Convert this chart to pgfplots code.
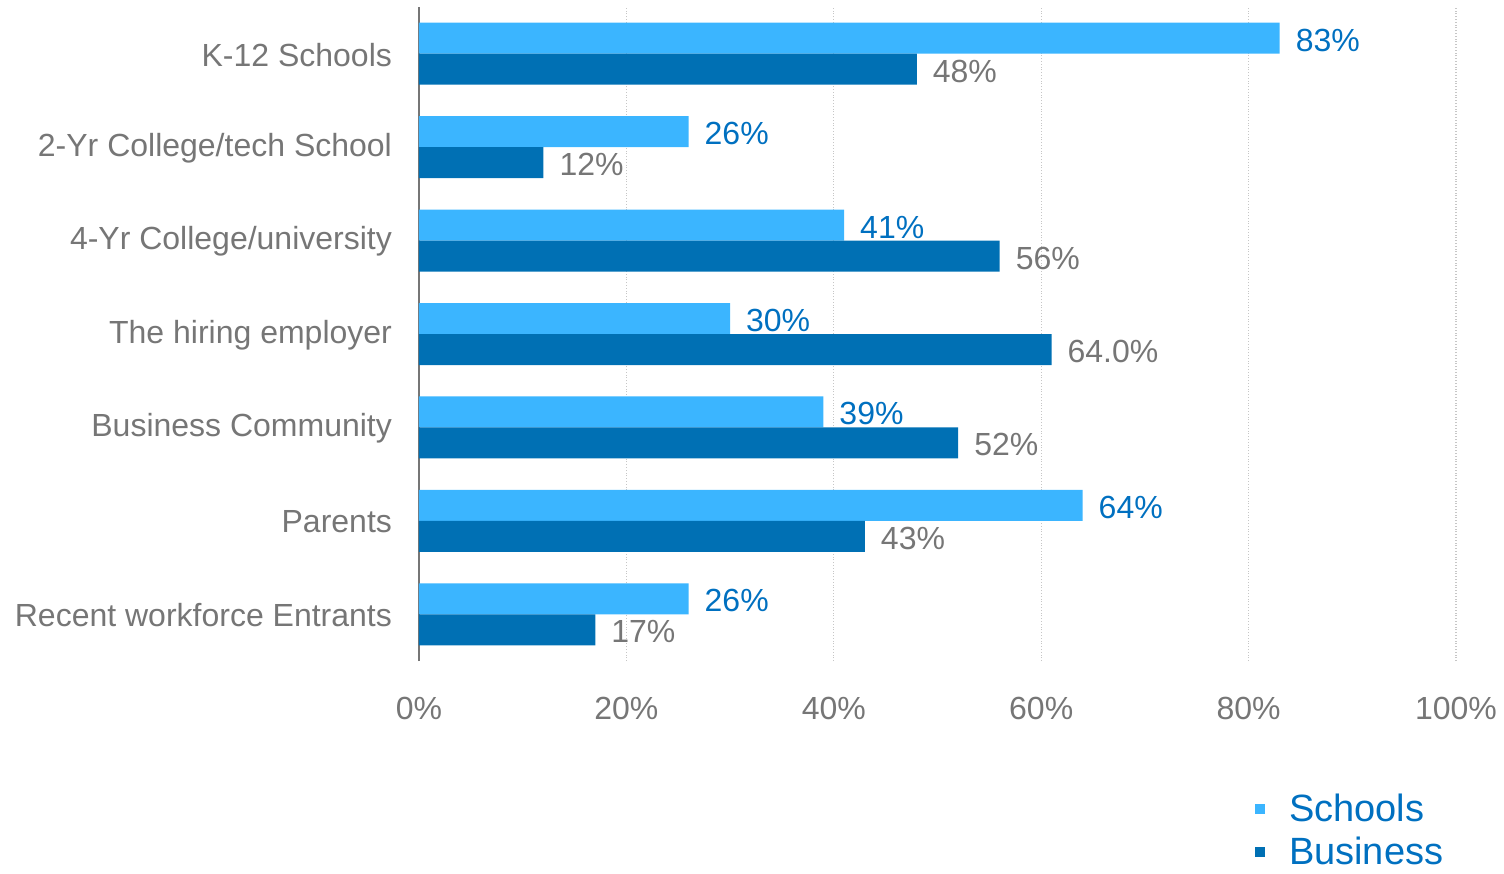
\documentclass[border=0pt]{standalone}
\usepackage{pgfplots}
\pgfplotsset{compat=1.18}
\usepackage{fontspec}
\setmainfont{Liberation Sans}
\definecolor{lightb}{HTML}{3BB5FF}
\definecolor{darkb}{HTML}{0070B4}
\definecolor{txtgray}{HTML}{767676}
\definecolor{lblblue}{HTML}{0070C0}
\begin{document}
\begin{tikzpicture}[x=1pt,y=1pt]
\useasboundingbox (-209.5,-106) rectangle (542.5,330.5);
\begin{axis}[
 scale only axis, width=518.5pt, height=327pt,
 at={(0,0)}, anchor=south west,
 xbar, bar width=15.5pt,
 xmin=0, xmax=100, ymin=-0.5, ymax=6.5,
 xtick={0,20,...,100}, xticklabels={0\%,20\%,40\%,60\%,80\%,100\%},
 ytick={0,...,6},
 yticklabels={Recent workforce Entrants, Parents, Business Community, The hiring employer, 4-Yr College/university, 2-Yr College/tech School, K-12 Schools},
 xmajorgrids, grid style={densely dotted, draw=gray!45, line width=0.6pt},
 major tick length=0,
 axis lines*=left,
 x axis line style={draw=none},
 y axis line style={draw=txtgray, line width=1pt},
 tick label style={font=\fontsize{16}{19}\selectfont, text=txtgray},
 xticklabel style={yshift=-14.5pt},
 yticklabel style={xshift=-10pt, yshift=-0.5pt},
 nodes near coords, point meta=explicit symbolic,
 nodes near coords style={font=\fontsize{16}{19}\selectfont, anchor=west, xshift=4.5pt, yshift=-1pt},
 legend style={at={(axis description cs:0.80,-0.19)}, anchor=north west, draw=none, fill=none,
   font=\fontsize{19}{22}\selectfont, text=lblblue, row sep=2.5pt},
 legend cell align=left,
 legend image code/.code={\fill[#1] (0pt,-2.5pt) rectangle (5pt,2.5pt); \path (15pt,0pt);},
]
\addplot[fill=lightb, draw=none, bar shift=7.75pt, nodes near coords style={text=lblblue}] coordinates {
 (83,6) [83\%]
 (26,5) [26\%]
 (41,4) [41\%]
 (30,3) [30\%]
 (39,2) [39\%]
 (64,1) [64\%]
 (26,0) [26\%]
};
\addlegendentry{Schools}
\addplot[fill=darkb, draw=none, bar shift=-7.75pt, nodes near coords style={text=txtgray}] coordinates {
 (48,6) [48\%]
 (12,5) [12\%]
 (56,4) [56\%]
 (61,3) [64.0\%]
 (52,2) [52\%]
 (43,1) [43\%]
 (17,0) [17\%]
};
\addlegendentry{Business}
\end{axis}
\end{tikzpicture}
\end{document}
